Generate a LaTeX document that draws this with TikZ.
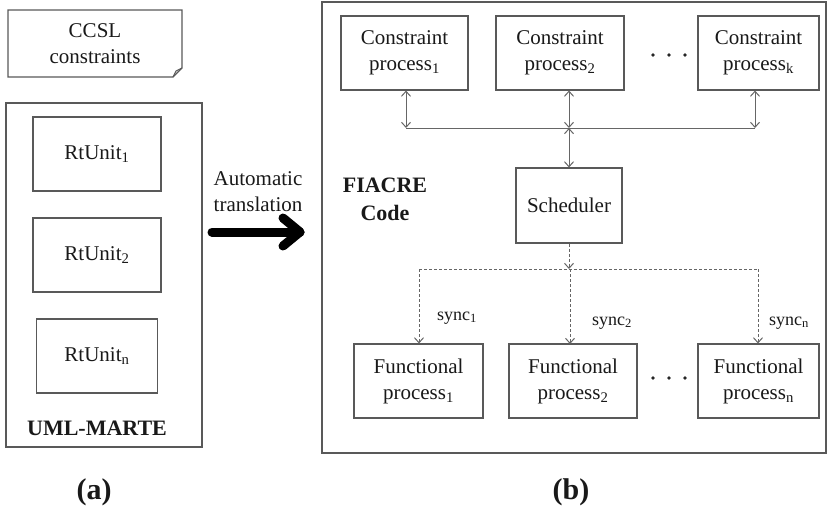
\documentclass[tikz,border=0pt]{standalone}
\usepackage{fontspec}
\setmainfont{Liberation Serif}
\usetikzlibrary{arrows.meta}
\begin{document}
\begin{tikzpicture}[x=1pt,y=-1pt,
  every node/.style={text=black!90, inner sep=0pt, align=center,
    font=\fontsize{21}{26}\selectfont},
  box/.style={draw=black!65, line width=1.1pt, fill=white},
  ttl/.style={font=\fontsize{22}{28}\selectfont\bfseries},
  lbl/.style={font=\fontsize{18}{22}\selectfont},
  link/.style={draw=black!60, line width=1pt},
  biarrow/.style={link, {Straight Barb[length=5pt,width=9pt]}-{Straight Barb[length=5pt,width=9pt]}},
  toarrow/.style={link, -{Straight Barb[length=5pt,width=9pt]}},
  dlink/.style={link, dash pattern=on 3pt off 2pt},
  dtoarrow/.style={dlink, -{Straight Barb[length=5pt,width=9pt]}},
  bigarrow/.style={line width=9pt, line cap=round, line join=round, black}
]
\useasboundingbox (0,0) rectangle (827,512);

% ---------- left part: UML-MARTE model ----------
% note shape with folded corner
\draw[box] (8,10) -- (182,10) -- (182,68) -- (173,77) -- (8,77) -- cycle;
\draw[draw=black!65, line width=1pt] (182,68) -- (176,71) -- (173,77);
\node (ccsl) at (95,44) {CCSL\\constraints};

\node[box, minimum width=196pt, minimum height=344pt] (uml) at (104,275) {};
\node[box, minimum width=128pt, minimum height=74pt] (rt1) at (97,154) {RtUnit\textsubscript{1}};
\node[box, minimum width=128pt, minimum height=74pt] (rt2) at (97,255) {RtUnit\textsubscript{2}};
\node[box, minimum width=121pt, minimum height=74pt] (rtn) at (97,356) {RtUnit\textsubscript{n}};
\node[ttl] (umllbl) at (97,428) {UML-MARTE};

% ---------- translation arrow ----------
\node (trans) at (258,192) {Automatic\\translation};
\coordinate (as) at (212,232);
\coordinate (ae) at (300,232);
\draw[bigarrow] (as) -- (ae);
\draw[bigarrow] ([shift={(-17,-14)}]ae) -- (ae) -- ([shift={(-17,14)}]ae);

% ---------- right part: FIACRE code ----------
\node[box, minimum width=504pt, minimum height=451pt] (fiacre) at (574,227.5) {};
\node[ttl] (fiacrelbl) at (385,199) {FIACRE\\Code};

\node[box, minimum width=127pt, minimum height=74pt] (cp1) at (404.5,53) {Constraint\\process\textsubscript{1}};
\node[box, minimum width=128pt, minimum height=74pt] (cp2) at (560,53) {Constraint\\process\textsubscript{2}};
\node[box, minimum width=121pt, minimum height=74pt] (cpk) at (758.5,53) {Constraint\\process\textsubscript{k}};

\node[box, minimum width=106pt, minimum height=75pt] (sched) at (569,205.5) {Scheduler};

\node[box, minimum width=129pt, minimum height=74pt] (fp1) at (418.5,381) {Functional\\process\textsubscript{1}};
\node[box, minimum width=128pt, minimum height=74pt] (fp2) at (573,381) {Functional\\process\textsubscript{2}};
\node[box, minimum width=121pt, minimum height=74pt] (fpn) at (758.5,381) {Functional\\process\textsubscript{n}};

% ellipses between the last two boxes of each row
\foreach \yy in {55,378} {
  \foreach \xx in {653,669,685} \fill[black!85] (\xx,\yy) circle (1.9pt);
}

% bus between constraint processes and scheduler
\coordinate (bus1) at (406,128);
\coordinate (busm) at (569,128);
\coordinate (busk) at (755,128);
\draw[link] (bus1) -- (busk);
\draw[biarrow] (bus1 |- cp1.south) -- (bus1);
\draw[biarrow] (busm |- cp2.south) -- (busm);
\draw[biarrow] (busk |- cpk.south) -- (busk);
\draw[biarrow] (busm) -- (sched.north);

% synchronisation links to the functional processes
\coordinate (sy1) at (419,269);
\coordinate (sym) at (569,269);
\coordinate (syn) at (758,269);
\draw[dtoarrow] (sched.south) -- (sym);
\draw[dlink] (sy1) -- (syn);
\draw[dtoarrow] (sy1) -- (sy1 |- fp1.north);
\draw[dtoarrow] (570,269) -- (570,344);
\draw[dtoarrow] (syn) -- (syn |- fpn.north);

\node[lbl] (s1) at (457,318) {sync\textsubscript{1}};
\node[lbl] (s2) at (612,323) {sync\textsubscript{2}};
\node[lbl] (sn) at (789,323) {sync\textsubscript{n}};

% ---------- captions ----------
\node[font=\fontsize{30}{34}\selectfont\bfseries] (capa) at (94,492) {(a)};
\node[font=\fontsize{30}{34}\selectfont\bfseries] (capb) at (571,492) {(b)};
\end{tikzpicture}
\end{document}
